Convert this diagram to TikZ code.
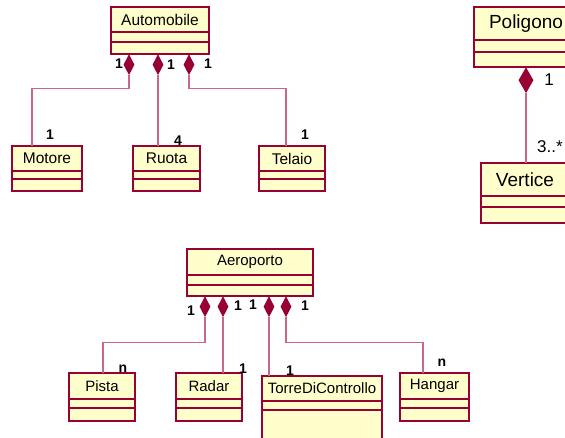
\documentclass[tikz,border=0pt]{standalone}
\usepackage{fontspec}
\setmainfont{Liberation Sans}
\usetikzlibrary{shapes.geometric,calc}
\definecolor{umlfill}{HTML}{FFFFCC}
\definecolor{umlborder}{HTML}{990033}
\definecolor{umlline}{HTML}{CC6688}
\tikzset{
  clsbox/.style={draw=umlborder, fill=umlfill, line width=1.2pt, rectangle, inner sep=0pt, outer sep=0pt},
  clstext/.style={inner sep=0pt, text=black},
  diam/.style={diamond, fill=umlborder, draw=none, inner sep=0pt, minimum width=11pt, minimum height=21pt, anchor=north},
  bigdiam/.style={diamond, fill=umlborder, draw=none, inner sep=0pt, minimum width=15pt, minimum height=26pt, anchor=north},
  conn/.style={draw=umlline, line width=1.3pt},
  mult/.style={inner sep=0pt, font=\fontsize{14}{15}\selectfont\bfseries, text=black},
  bigmult/.style={inner sep=0pt, font=\fontsize{17}{18}\selectfont, text=black}
}
\newcommand\umlclass[9]{%
  \node[clsbox, minimum width={#4-#2}, minimum height={#5-#3}, anchor=north west] (#1) at (#2,#3) {};
  \draw[umlborder, line width=1.1pt] (#2,#6) -- (#4,#6) (#2,#7) -- (#4,#7);
  \node[clstext, font=\fontsize{#9}{#9}\selectfont] (#1-title) at ({(#2+#4)/2},{(#3+#6)/2}) {#8};
}
\begin{document}
\begin{tikzpicture}[x=1pt,y=-1pt]
\useasboundingbox (0,0) rectangle (565,438);
\clip (0,0) rectangle (565,438);
\fill[white] (0,0) rectangle (565,438);

% Automobile group
\umlclass{auto}{111}{7}{209}{54}{32}{42}{Automobile}{15.5}
\umlclass{motore}{12}{146}{82}{191}{171}{179}{Motore}{15.5}
\umlclass{ruota}{133}{146}{200}{191}{171}{179}{Ruota}{15.5}
\umlclass{telaio}{259}{146}{325}{191}{171}{179}{Telaio}{15.5}

\node[diam] (ad1) at (129,54) {};
\node[diam] (ad2) at (158,54) {};
\node[diam] (ad3) at (189,54) {};

\draw[conn] (ad1.south) -- ++(0,13) -| ($(motore.north west)+(20,0)$);
\draw[conn] (ad2.south) -- (ad2.south |- ruota.north);
\draw[conn] (ad3.south) -- ++(0,13) -| ($(telaio.north west)+(27,0)$);

\node[mult] (m1) at (119,64) {1};
\node[mult] (m2) at (171,65) {1};
\node[mult] (m3) at (208,64) {1};
\node[mult] (m4) at (50,135) {1};
\node[mult] (m5) at (178,141) {4};
\node[mult] (m6) at (305,135) {1};

% Poligono
\umlclass{poligono}{474}{7}{578}{67}{40}{52}{Poligono}{19}
\umlclass{vertice}{481}{163}{569}{223}{196}{207}{Vertice}{19}
\node[bigdiam] (pd) at (526,67) {};
\draw[conn, line width=1.5pt] (pd.south) -- (pd.south |- vertice.north);
\node[bigmult] (pm1) at (549,80) {1};
\node[bigmult] (pm2) at (550,147) {3..*};

% Aeroporto group
\umlclass{aero}{187}{249}{313}{296}{275}{285}{Aeroporto}{15}
\umlclass{pista}{69}{373}{135}{421}{399}{408}{Pista}{15}
\umlclass{radar}{176}{373}{242}{421}{399}{408}{Radar}{15}
\umlclass{torre}{262}{376}{382}{450}{401}{410}{TorreDiControllo}{15}
\umlclass{hangar}{400}{373}{469}{421}{399}{408}{Hangar}{15}

\node[diam] (rd1) at (205,296) {};
\node[diam] (rd2) at (223,296) {};
\node[diam] (rd3) at (269,296) {};
\node[diam] (rd4) at (286,296) {};

\draw[conn] (rd1.south) -- ++(0,25) -| ($(pista.north west)+(34,0)$);
\draw[conn] (rd2.south) -- (rd2.south |- radar.north);
\draw[conn] (rd3.south) -- (rd3.south |- torre.north);
\draw[conn] (rd4.south) -- ++(0,25) -| ($(hangar.north west)+(23,0)$);

\node[mult] (r1) at (191,311) {1};
\node[mult] (r2) at (238,306) {1};
\node[mult] (r3) at (253,305) {1};
\node[mult] (r4) at (305,306) {1};
\node[mult] (r5) at (123,369) {n};
\node[mult] (r6) at (243,369) {1};
\node[mult] (r7) at (290,371) {1};
\node[mult] (r8) at (442,363) {n};
\end{tikzpicture}
\end{document}
